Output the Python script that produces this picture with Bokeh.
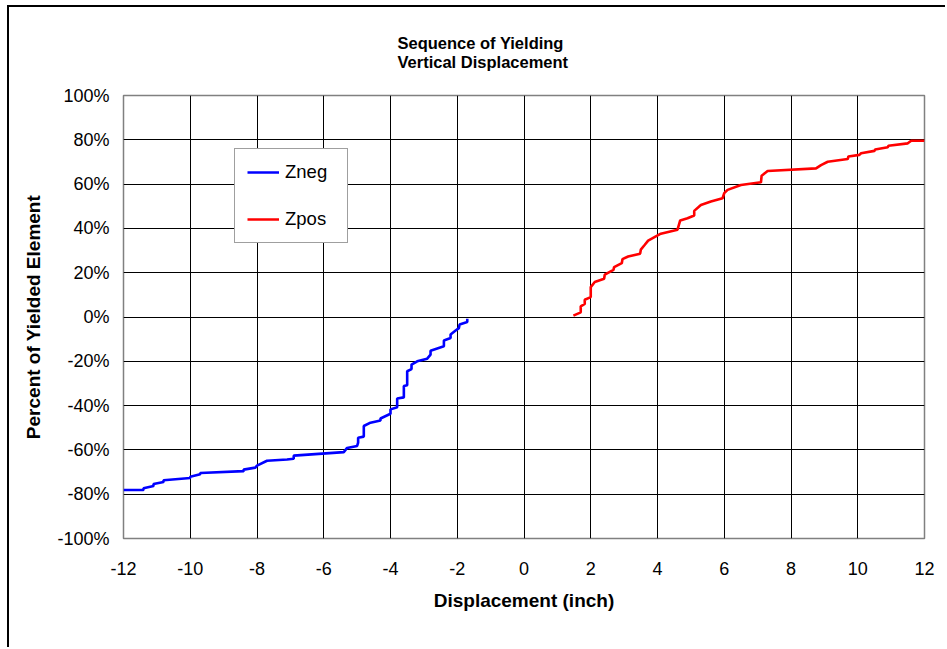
from bokeh.plotting import figure
from bokeh.models import Range1d, FixedTicker, PrintfTickFormatter, Legend, LegendItem, Title
from bokeh.embed import file_html
from bokeh.resources import INLINE

title_lines = ["Sequence of Yielding", "Vertical Displacement"]
x_label = "Displacement (inch)"
y_label = "Percent of Yielded Element"
x_ticks = list(range(-12, 13, 2))
y_ticks = list(range(-100, 101, 20))

zneg_x = [-12.0, -11.4, -11.4, -11.1, -11.1, -10.8, -10.8, -10.0, -10.0, -9.7, -9.7,
          -8.4, -8.4, -8.05, -8.0, -7.7, -7.1, -6.9, -6.9, -5.4, -5.3, -5.0, -4.97,
          -4.97, -4.8, -4.8, -4.6, -4.3, -4.3, -4.0, -4.0, -3.8, -3.8, -3.6, -3.6,
          -3.5, -3.5, -3.37, -3.37, -3.2, -2.9, -2.8, -2.8, -2.4, -2.4, -2.2, -2.2,
          -2.05, -1.95, -1.93, -1.7, -1.7]
zneg_y = [-78.1, -78.1, -77.3, -76.3, -75.4, -74.5, -73.7, -72.7, -72.1, -71.0, -70.4,
          -69.6, -68.9, -68.0, -67.1, -64.9, -64.3, -64.0, -62.6, -61.0, -59.1, -58.2, -56.7,
          -54.5, -54.0, -49.2, -47.7, -46.7, -45.8, -43.7, -41.7, -40.7, -36.8, -36.3, -31.2,
          -30.8, -24.5, -23.5, -21.5, -20.0, -18.8, -17.0, -15.2, -13.2, -10.6, -9.5, -7.9,
          -6.1, -5.0, -3.4, -2.3, -0.8]

zpos_x = [1.48, 1.70, 1.70, 1.82, 1.82, 2.0, 2.0, 2.12, 2.40, 2.42, 2.68, 2.70, 2.93,
          2.95, 3.12, 3.48, 3.50, 3.62, 3.72, 3.95, 4.1, 4.6, 4.68, 4.9, 5.1, 5.1, 5.3,
          5.6, 5.95, 6.0, 6.1, 6.5, 7.1, 7.12, 7.3, 8.75, 8.9, 9.1, 9.7, 9.72, 10.05,
          10.1, 10.5, 10.52, 10.9, 10.92, 11.5, 11.6, 12.0]
zpos_y = [0.6, 2.1, 4.8, 5.9, 7.8, 9.0, 13.5, 15.8, 17.3, 19.1, 21.3, 22.5, 24.3,
          26.1, 27.3, 28.6, 30.4, 32.6, 34.5, 36.4, 37.6, 39.4, 43.6, 44.6, 45.8, 47.9, 50.6,
          52.1, 53.6, 55.9, 57.4, 59.6, 60.8, 63.8, 65.9, 67.1, 68.6, 70.1, 71.3, 72.5, 73.2,
          73.9, 75.0, 75.6, 76.6, 77.3, 78.4, 79.6, 79.6]

FONT = "Liberation Sans"

p = figure(width=938, height=642, output_backend="svg", toolbar_location=None,
           x_range=Range1d(-12, 12), y_range=Range1d(-100, 100),
           min_border_left=114, min_border_right=23, min_border_top=87, min_border_bottom=111,
           styles={"border-left": "2px solid black", "border-top": "2px solid black",
                   "margin-left": "7px", "margin-top": "5px"})

p.background_fill_color = "white"
p.border_fill_color = "white"
p.outline_line_color = "#808080"
p.outline_line_width = 1.5

p.xaxis.ticker = FixedTicker(ticks=x_ticks)
p.yaxis.ticker = FixedTicker(ticks=y_ticks)
p.xaxis.formatter = PrintfTickFormatter(format="%d")
p.yaxis.formatter = PrintfTickFormatter(format="%d%%")
for ax in (p.xaxis[0], p.yaxis[0]):
    ax.axis_line_color = None
    ax.major_tick_line_color = None
    ax.minor_tick_line_color = None
    ax.major_tick_out = 0
    ax.major_tick_in = 0
    ax.minor_tick_out = 0
    ax.minor_tick_in = 0
    ax.major_label_text_font = FONT
    ax.major_label_text_font_size = "18px"
    ax.major_label_text_color = "black"
    ax.axis_label_text_font = FONT
    ax.axis_label_text_font_size = "19px"
    ax.axis_label_text_font_style = "bold"
    ax.axis_label_text_color = "black"
p.xaxis.axis_label = x_label
p.yaxis.axis_label = y_label
p.xaxis.major_label_standoff = 23
p.yaxis.major_label_standoff = 14
p.xaxis.axis_label_standoff = 12
p.yaxis.axis_label_standoff = 10

p.xgrid.ticker = FixedTicker(ticks=x_ticks)
p.ygrid.ticker = FixedTicker(ticks=y_ticks)
for g in (p.xgrid[0], p.ygrid[0]):
    g.grid_line_color = "black"
    g.grid_line_width = 1
    g.grid_line_alpha = 1.0

r1 = p.line(zneg_x, zneg_y, line_color="#0000FF", line_width=2.6)
r2 = p.line(zpos_x, zpos_y, line_color="#FF0000", line_width=2.6)

legend = Legend(items=[LegendItem(label="Zneg", renderers=[r1]),
                       LegendItem(label="Zpos", renderers=[r2])],
                location=(111, 295))
legend.margin = 0
legend.padding = 12
legend.spacing = 25
legend.glyph_width = 32
legend.label_width = 50
legend.label_standoff = 6
legend.label_text_font = FONT
legend.label_text_font_size = "18.5px"
legend.label_text_color = "black"
legend.border_line_color = "#404040"
legend.border_line_width = 1.5
legend.background_fill_color = "white"
legend.background_fill_alpha = 1.0
p.add_layout(legend)

title = Title(text="\n".join(title_lines), align="left", offset=274, standoff=48,
              text_font=FONT, text_font_size="16.5px", text_font_style="bold",
              text_color="black", text_line_height=1.11)
p.add_layout(title, "above")

open("out.html", "w").write(file_html(p, INLINE))
